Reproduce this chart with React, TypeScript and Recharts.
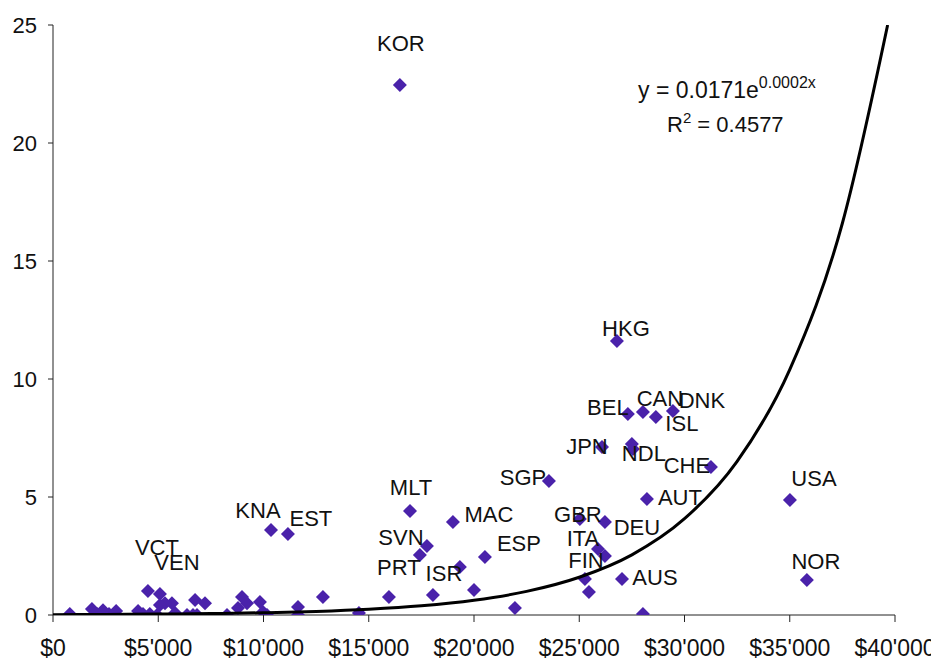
import React from "react";
import { ScatterChart, Scatter, XAxis, YAxis, Customized } from "recharts";

// country codes ("" = unlabelled point)
const countries = [
  "KOR", "HKG", "BEL", "CAN", "ISL", "DNK", "JPN", "NDL", "", "CHE",
  "SGP", "AUT", "USA", "NOR", "GBR", "DEU", "ITA", "", "FIN", "",
  "AUS", "", "MLT", "MAC", "EST", "KNA", "SVN", "PRT", "ISR", "ESP",
  "", "", "", "", "", "", "VCT", "VEN", "", "",
  "", "", "", "", "", "", "", "", "", "",
  "", "", "", "", "", "", "", "", "", "",
  "", "", "", "", "", "",
];

const gdpPerCapita = [
  16480, 26790, 27310, 28025, 28640, 29450, 26080, 27500, 27550, 31255,
  23560, 28215, 35010, 35815, 25030, 26220, 25890, 26220, 25270, 25460,
  27030, 28025, 16960, 19000, 11160, 10355, 17765, 17430, 18050, 20520,
  19330, 20000, 21945, 14535, 15960, 12825, 4510, 5080, 11640, 11640,
  10165, 9975, 9830, 9215, 8980, 8790, 8265, 7220, 6750, 6650,
  6365, 5800, 5650, 5320, 5080, 4940, 4600, 4275, 4040, 3000,
  2660, 2375, 2090, 1850, 800, 6840,
];

const values = [
  22.46, 11.61, 8.52, 8.6, 8.39, 8.64, 7.12, 7.25, 7.03, 6.27,
  5.68, 4.92, 4.87, 1.48, 4.07, 3.94, 2.8, 2.5, 1.53, 0.97,
  1.53, 0.04, 4.41, 3.94, 3.43, 3.6, 2.92, 2.54, 0.85, 2.46,
  2.03, 1.06, 0.3, 0.08, 0.76, 0.76, 1.02, 0.89, 0.34, 0,
  0, 0.13, 0.55, 0.5, 0.76, 0.3, 0, 0.5, 0.64, 0,
  0, 0.08, 0.5, 0.5, 0.42, 0, 0.04, 0.04, 0.17, 0.17,
  0.04, 0.2, 0.04, 0.25, 0.04, 0,
];

// exponential trend line
const trendX = [0, 2500, 5000, 7500, 10000, 12500, 15000, 17500, 20000, 22500, 25000, 27500, 30000, 32500, 35000, 37500, 39650];
const trendY = [0.015, 0.024, 0.038, 0.06, 0.096, 0.153, 0.245, 0.391, 0.626, 1.0, 1.6, 2.55, 4.08, 6.51, 10.4, 16.6, 25];

const xTicks = [0, 5000, 10000, 15000, 20000, 25000, 30000, 35000, 40000];
const yTicks = [0, 5, 10, 15, 20, 25];

// label placement relative to the marker (px)
const labelOffset: Record<string, [number, number]> = {
  KOR: [1, -41], HKG: [9, -13], BEL: [-20, -6], CAN: [17, -14], ISL: [26, 7],
  DNK: [29, -11], JPN: [-15, 0], NDL: [12, 10], CHE: [-24, -2], SGP: [-26, -3],
  AUT: [33, -1], USA: [24, -22], NOR: [9, -19], GBR: [-2, -4], DEU: [32, 5],
  ITA: [-15, -10], FIN: [1, -18], AUS: [33, -1], MLT: [1, -23], MAC: [36, -8],
  EST: [23, -16], KNA: [-13, -20], SVN: [-26, -9], PRT: [-21, 12], ISR: [11, -21],
  ESP: [34, -13], VCT: [9, -43], VEN: [17, -31],
};

const points = gdpPerCapita.map((x, i) => ({ x, y: values[i], code: countries[i] }));
const trend = trendX.map((x, i) => ({ x, y: trendY[i] }));

const FONT = "'Liberation Sans', Arial, sans-serif";
const PURPLE = "#4a22aa";

const fmtMoney = (v: number) =>
  "$" + String(v).replace(/\B(?=(\d{3})+(?!\d))/g, "'");

const Diamond = (props: any) => {
  const { cx, cy } = props;
  const r = 7;
  return (
    <polygon
      points={`${cx},${cy - r} ${cx + r},${cy} ${cx},${cy + r} ${cx - r},${cy}`}
      fill={PURPLE}
    />
  );
};

const PointLabel = (props: any) => {
  const { cx, cy, payload } = props;
  const off = labelOffset[payload.code];
  if (!payload.code || !off) return <g />;
  return (
    <text
      x={cx + off[0]}
      y={cy + off[1]}
      textAnchor="middle"
      dominantBaseline="central"
      fontFamily={FONT}
      fontSize={22}
      fill="#111"
    >
      {payload.code}
    </text>
  );
};

const Equation = () => (
  <g fontFamily={FONT} fill="#111">
    <text x={630} y={90} fontSize={23}>
      y = 0.0171e
      <tspan fontSize={16} dy={-10}>0.0002x</tspan>
    </text>
    <text x={659} y={124} fontSize={22}>
      R<tspan fontSize={15} dy={-9}>2</tspan>
      <tspan dy={9}> = 0.4577</tspan>
    </text>
  </g>
);

export default function App() {
  return (
    <ScatterChart
      width={931}
      height={653}
      margin={{ top: 17, right: 44, bottom: 16, left: 0 }}
    >
      <XAxis
        type="number"
        dataKey="x"
        domain={[0, 40000]}
        ticks={xTicks}
        tickFormatter={fmtMoney}
        tickSize={7}
        tickMargin={18}
        height={30}
        stroke="#222"
        tick={{ fill: "#111", fontSize: 23, fontFamily: FONT }}
        allowDataOverflow
      />
      <YAxis
        type="number"
        dataKey="y"
        domain={[0, 25]}
        ticks={yTicks}
        tickSize={5}
        tickMargin={11}
        width={45}
        stroke="#222"
        tick={{ fill: "#111", fontSize: 22, fontFamily: FONT }}
        allowDataOverflow
      />
      <Scatter
        data={points}
        shape={Diamond}
        isAnimationActive={false}
      />
      <Scatter
        data={trend}
        line={{ stroke: "#000", strokeWidth: 3 }}
        lineJointType="monotoneX"
        shape={() => <g />}
        isAnimationActive={false}
      />
      <Scatter
        data={points}
        shape={PointLabel}
        isAnimationActive={false}
      />
      <Customized component={Equation} />
    </ScatterChart>
  );
}
